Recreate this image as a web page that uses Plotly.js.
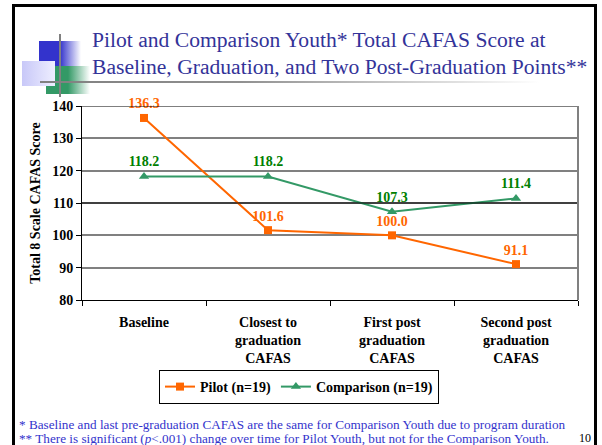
<!DOCTYPE html>
<html>
<head>
<meta charset="utf-8">
<script src="https://cdn.plot.ly/plotly-3.0.1.min.js"></script>
<style>
html,body{margin:0;padding:0;background:#fff;}
#wrap{position:relative;width:602px;height:445px;overflow:hidden;}
#chart{position:absolute;left:0;top:0;width:602px;height:445px;z-index:2;}
.deco{position:absolute;z-index:1;}
</style>
</head>
<body>
<div id="wrap">
  <div class="deco" style="left:12px;top:4px;width:585px;height:460px;border:3px solid #000;box-sizing:border-box;"></div>
  <div class="deco" style="left:39px;top:41px;width:42px;height:27px;background:linear-gradient(to right,#3333cc 0%,#3333cc 50%,#ffffff 100%);"></div>
  <div class="deco" style="left:46px;top:66px;width:44px;height:28px;background:linear-gradient(to right,#339966 0%,#339966 50%,#ffffff 100%);"></div>
  <div class="deco" style="left:22px;top:61px;width:33px;height:25px;background:linear-gradient(to right,#c8c8f8 0%,#eeeeff 100%);"></div>
  <div class="deco" style="left:59px;top:34px;width:2px;height:63px;background:#808080;"></div>
  <div class="deco" style="left:40px;top:81px;width:500px;height:2px;background:linear-gradient(to right,#808080 0%,#909090 40%,#ffffff 100%);"></div>
  <div id="chart"></div>
</div>
<script>
var categories = ["Baseline", "Closest to<br>graduation<br>CAFAS", "First post<br>graduation<br>CAFAS", "Second post<br>graduation<br>CAFAS"];
var pilotValues = [136.3, 101.6, 100.0, 91.1];
var comparisonValues = [118.2, 118.2, 107.3, 111.4];
var pilotName = "Pilot (n=19)";
var comparisonName = "Comparison (n=19)";
var yTicks = [80, 90, 100, 110, 120, 130, 140];

var L = 82, R = 578, T = 106, B = 300;
function px(x){ return (x - L) / (R - L); }
function py(y){ return (B - y) / (B - T); }

var serif = "Liberation Serif";

var traces = [
  {
    x: categories, y: pilotValues, name: pilotName, type: "scatter", mode: "lines+markers+text",
    line: {color: "#FF6600", width: 2},
    marker: {symbol: "square", size: 8, color: "#FF6600"},
    text: pilotValues.map(function(v){ return v.toFixed(1); }),
    textposition: "top center",
    textfont: {family: serif, size: 14, color: "#FF6600", weight: "bold"},
    cliponaxis: false
  },
  {
    x: categories, y: comparisonValues, name: comparisonName, type: "scatter", mode: "lines+markers+text",
    line: {color: "#339966", width: 2},
    marker: {symbol: "triangle-up", size: 9, color: "#339966"},
    text: comparisonValues.map(function(v){ return v.toFixed(1); }),
    textposition: "top center",
    textfont: {family: serif, size: 14, color: "#008000", weight: "bold"},
    cliponaxis: false
  }
];

var layout = {
  width: 602, height: 445,
  margin: {l: L, r: 602 - R, t: T, b: 445 - B},
  paper_bgcolor: "rgba(0,0,0,0)",
  plot_bgcolor: "#ffffff",
  font: {family: serif, size: 14, color: "#000"},
  showlegend: true,
  legend: {
    orientation: "h", x: px(299), y: py(370), xanchor: "center", yanchor: "top",
    bordercolor: "#000", borderwidth: 1, bgcolor: "#fff",
    font: {family: serif, size: 14, color: "#000", weight: "bold"},
    itemwidth: 30, tracegroupgap: 0
  },
  xaxis: {
    type: "category", range: [-0.5, 3.5],
    showline: true, linecolor: "#000", linewidth: 1,
    ticks: "outside", ticklen: 5, tickcolor: "#000", tickson: "boundaries",
    ticklabelstandoff: 9,
    showgrid: false, zeroline: false,
    tickfont: {family: serif, size: 14, color: "#000", weight: "bold"}
  },
  yaxis: {
    range: [80, 140], tickvals: yTicks, ticktext: yTicks.map(String),
    showline: true, linecolor: "#000", linewidth: 1,
    ticks: "outside", ticklen: 5, tickcolor: "#000",
    showgrid: true, gridcolor: "#808080", gridwidth: 2, zeroline: false,
    tickfont: {family: serif, size: 14, color: "#000", weight: "bold"},
    title: {text: "Total 8 Scale CAFAS Score", standoff: 8, font: {family: serif, size: 14, color: "#000", weight: "bold"}}
  },
  shapes: [
    {type: "line", xref: "paper", yref: "y", x0: 0, x1: 1, y0: 110, y1: 110, line: {color: "#000", width: 1}},
    {type: "line", xref: "paper", yref: "y", x0: 0, x1: 1, y0: 140, y1: 140, line: {color: "#000", width: 1}},
    {type: "line", xref: "paper", yref: "paper", x0: 1, x1: 1, y0: 0, y1: 1, line: {color: "#808080", width: 2}}
  ],
  annotations: [
    {xref: "paper", yref: "paper", x: px(90), y: py(40), xanchor: "left", yanchor: "middle", showarrow: false,
     text: "Pilot and Comparison Youth* Total CAFAS Score at", font: {family: serif, size: 21.6, color: "#333399"}},
    {xref: "paper", yref: "paper", x: px(90), y: py(67), xanchor: "left", yanchor: "middle", showarrow: false,
     text: "Baseline, Graduation, and Two Post-Graduation Points**", font: {family: serif, size: 21.6, color: "#333399"}},
    {xref: "paper", yref: "paper", x: px(17), y: py(424), xanchor: "left", yanchor: "middle", showarrow: false,
     text: "* Baseline and last pre-graduation CAFAS are the same for Comparison Youth due to program duration", font: {family: serif, size: 13.2, color: "#3333CC"}},
    {xref: "paper", yref: "paper", x: px(17), y: py(438), xanchor: "left", yanchor: "middle", showarrow: false,
     text: "** There is significant (<i>p</i><.001) change over time for Pilot Youth, but not for the Comparison Youth.", font: {family: serif, size: 13.2, color: "#3333CC"}},
    {xref: "paper", yref: "paper", x: px(593), y: py(438), xanchor: "right", yanchor: "middle", showarrow: false,
     text: "10", font: {family: serif, size: 12, color: "#000"}}
  ]
};

Plotly.newPlot("chart", traces, layout, {displayModeBar: false, staticPlot: true});
</script>
</body>
</html>
